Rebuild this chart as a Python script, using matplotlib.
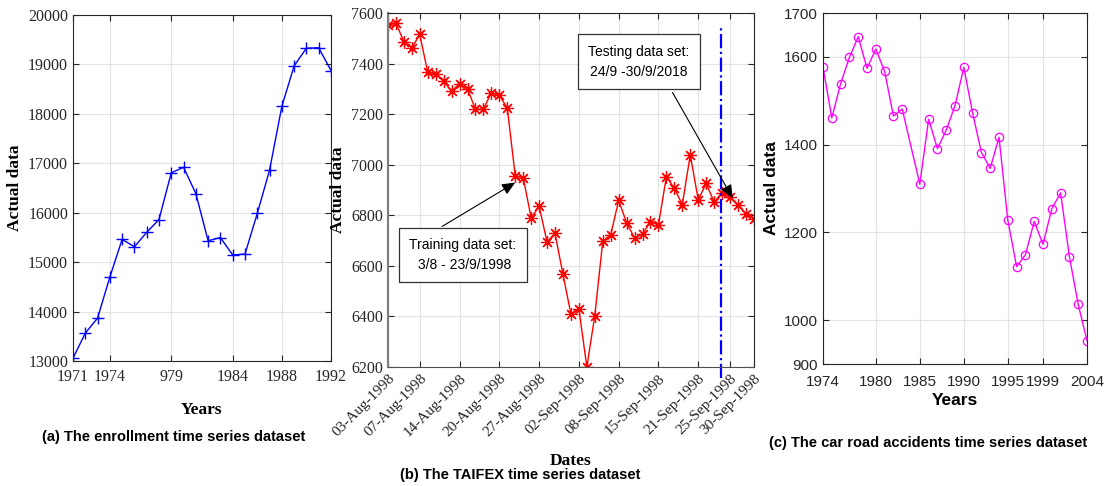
import matplotlib
matplotlib.use("Agg")
import matplotlib.pyplot as plt
import numpy as np

# ---------------- data ----------------
enroll_years = list(range(1971, 1993))
enroll_values = [13055, 13563, 13867, 14696, 15460, 15311, 15603, 15861, 16807, 16919,
                 16388, 15433, 15497, 15145, 15163, 15984, 16859, 18150, 18970, 19328,
                 19337, 18876]
enroll_xticks = [1971, 1974, 1979, 1984, 1988, 1992]
enroll_xticklabels = ["1971", "1974", "979", "1984", "1988", "1992"]

taifex_dates = ["03-Aug-1998", "04-Aug-1998", "05-Aug-1998", "06-Aug-1998", "07-Aug-1998",
                "10-Aug-1998", "11-Aug-1998", "12-Aug-1998", "13-Aug-1998", "14-Aug-1998",
                "15-Aug-1998", "17-Aug-1998", "18-Aug-1998", "19-Aug-1998", "20-Aug-1998",
                "21-Aug-1998", "24-Aug-1998", "25-Aug-1998", "26-Aug-1998", "27-Aug-1998",
                "28-Aug-1998", "29-Aug-1998", "31-Aug-1998", "01-Sep-1998", "02-Sep-1998",
                "03-Sep-1998", "04-Sep-1998", "05-Sep-1998", "07-Sep-1998", "08-Sep-1998",
                "09-Sep-1998", "10-Sep-1998", "11-Sep-1998", "14-Sep-1998", "15-Sep-1998",
                "16-Sep-1998", "17-Sep-1998", "18-Sep-1998", "19-Sep-1998", "21-Sep-1998",
                "22-Sep-1998", "23-Sep-1998", "24-Sep-1998", "25-Sep-1998", "28-Sep-1998",
                "29-Sep-1998", "30-Sep-1998"]
taifex_values = [7552, 7560, 7487, 7462, 7515, 7365, 7360, 7330, 7291, 7320,
                 7300, 7219, 7220, 7285, 7274, 7225, 6955, 6949, 6790, 6835,
                 6695, 6728, 6566, 6409, 6430, 6200, 6403.2, 6697.5, 6722.3, 6859.4,
                 6769.6, 6709.75, 6726.5, 6774.55, 6762, 6952.75, 6906, 6842, 7039, 6861,
                 6926, 6852, 6890, 6871, 6840, 6806, 6787]
taifex_ticklabels = ["03-Aug-1998", "07-Aug-1998", "14-Aug-1998", "20-Aug-1998", "27-Aug-1998",
                     "02-Sep-1998", "08-Sep-1998", "15-Sep-1998", "21-Sep-1998", "25-Sep-1998",
                     "30-Sep-1998"]
split_position = 41.8  # between training and testing

acc_years = [1974, 1975, 1976, 1977, 1978, 1979, 1980, 1981, 1982, 1983,
             1985, 1986, 1987, 1988, 1989, 1990, 1991, 1992, 1993, 1994,
             1995, 1996, 1997, 1998, 1999, 2000, 2001, 2002, 2003, 2004]
acc_values = [1576, 1461, 1539, 1599, 1646, 1574, 1618, 1567, 1465, 1481,
              1310, 1458, 1391, 1433, 1489, 1576, 1472, 1382, 1346, 1417,
              1228, 1122, 1149, 1225, 1173, 1254, 1290, 1145, 1036, 953]
acc_xticks = [1974, 1980, 1985, 1990, 1995, 1999, 2004]
acc_yticks = [900, 1000, 1200, 1400, 1600, 1700]

SERIF = "Liberation Serif"
SANS = "Liberation Sans"
GRID = "#e3e3e3"

fig = plt.figure(figsize=(11.04, 4.86), dpi=100)


def style_axes(ax, family, size, xpad=3.5):
    ax.grid(True, color=GRID, linewidth=0.8)
    ax.set_axisbelow(True)
    ax.tick_params(direction="in", top=True, right=True, length=4, width=0.8,
                   labelsize=size, colors="#262626")
    ax.tick_params(axis="x", pad=xpad)
    for lab in ax.get_xticklabels() + ax.get_yticklabels():
        lab.set_family(family)
    for s in ax.spines.values():
        s.set_color("#262626")
        s.set_linewidth(0.8)


# ---------- (a) enrollment ----------
ax1 = fig.add_axes([0.0661, 0.2572, 0.2337, 0.712])
ax1.plot(enroll_years, enroll_values, color="#0000ff", lw=1.0, marker="+",
         markersize=9, markeredgewidth=1.0)
ax1.set_xlim(1971, 1992)
ax1.set_ylim(13000, 20000)
ax1.set_xticks(enroll_xticks)
ax1.set_xticklabels(enroll_xticklabels)
ax1.set_yticks(np.arange(13000, 20001, 1000))
style_axes(ax1, SERIF, 11.5, xpad=6)
ax1.set_xlabel("Years", family=SERIF, fontsize=12.5, fontweight="bold", labelpad=12)
ax1.set_ylabel("Actual data", family=SERIF, fontsize=12.5, fontweight="bold", labelpad=4)

# ---------- (b) TAIFEX ----------
ax2 = fig.add_axes([0.3514, 0.2449, 0.3315, 0.7284])
idx = np.arange(len(taifex_values))
ax2.plot(idx, taifex_values, color="#ff0000", lw=1.0, marker=(8, 2, 0),
         markersize=9, markeredgewidth=0.9)
ax2.set_xlim(0, len(taifex_values) - 1)
ax2.set_ylim(6200, 7600)
ax2.set_yticks(np.arange(6200, 7601, 200))
ax2.set_xticks([taifex_dates.index(d) for d in taifex_ticklabels])
ax2.set_xticklabels(taifex_ticklabels, rotation=45, ha="right", rotation_mode="anchor")
style_axes(ax2, SERIF, 11.5)
for lab in ax2.get_xticklabels():
    lab.set_fontsize(11)
ax2.spines["left"].set_color("#808080")
ax2.spines["left"].set_linewidth(1.6)
ax2.spines["bottom"].set_color("#505050")
ax2.axvline(split_position, color="#0000ff", lw=1.6, ls="-.", ymin=-0.03, ymax=0.96,
            clip_on=False)
ax2.set_xlabel("Dates", family=SERIF, fontsize=12.5, fontweight="bold", labelpad=10)
ax2.set_ylabel("Actual data", family=SERIF, fontsize=12.5, fontweight="bold", labelpad=4)

box = dict(boxstyle="square,pad=0.75", fc="white", ec="#333333", lw=0.9)
ax2.annotate("", xy=(16.3, 6935), xytext=(6.5, 6750),
             arrowprops=dict(arrowstyle="-|>,head_length=0.8,head_width=0.35",
                             color="black", lw=0.8))
ax2.annotate("", xy=(43.5, 6858), xytext=(35.6, 7295),
             arrowprops=dict(arrowstyle="-|>,head_length=0.8,head_width=0.35",
                             color="black", lw=0.8))
ax2.text(9.4, 6643, "Training data set:\n 3/8 - 23/9/1998", family=SANS, fontsize=10,
         ha="center", va="center", bbox=box, linespacing=1.55)
ax2.text(31.5, 7408, "Testing data set:\n24/9 -30/9/2018", family=SANS, fontsize=10,
         ha="center", va="center", bbox=box, linespacing=1.55)

# ---------- (c) car road accidents ----------
ax3 = fig.add_axes([0.7455, 0.251, 0.2391, 0.7222])
ax3.plot(acc_years, acc_values, color="#ff00ff", lw=1.0, marker="o", markersize=6,
         markerfacecolor="none", markeredgewidth=0.9)
ax3.set_xlim(1974, 2004)
ax3.set_ylim(900, 1700)
ax3.set_xticks(acc_xticks)
ax3.set_yticks(acc_yticks)
style_axes(ax3, SANS, 11, xpad=8)
ax3.set_xlabel("Years", family=SANS, fontsize=12.5, fontweight="bold", labelpad=3)
ax3.set_ylabel("Actual data", family=SANS, fontsize=12.5, fontweight="bold", labelpad=4)

# ---------- captions ----------
fig.text(174 / 1104, 1 - 437 / 486, "(a) The enrollment time series dataset", family=SANS,
         fontsize=10.5, fontweight="bold", ha="center", va="center")
fig.text(520 / 1104, 1 - 475 / 486, "(b) The TAIFEX time series dataset", family=SANS,
         fontsize=10.5, fontweight="bold", ha="center", va="center")
fig.text(928 / 1104, 1 - 443 / 486, "(c) The car road accidents time series dataset", family=SANS,
         fontsize=10.5, fontweight="bold", ha="center", va="center")

fig.savefig("out.png", dpi=100)
